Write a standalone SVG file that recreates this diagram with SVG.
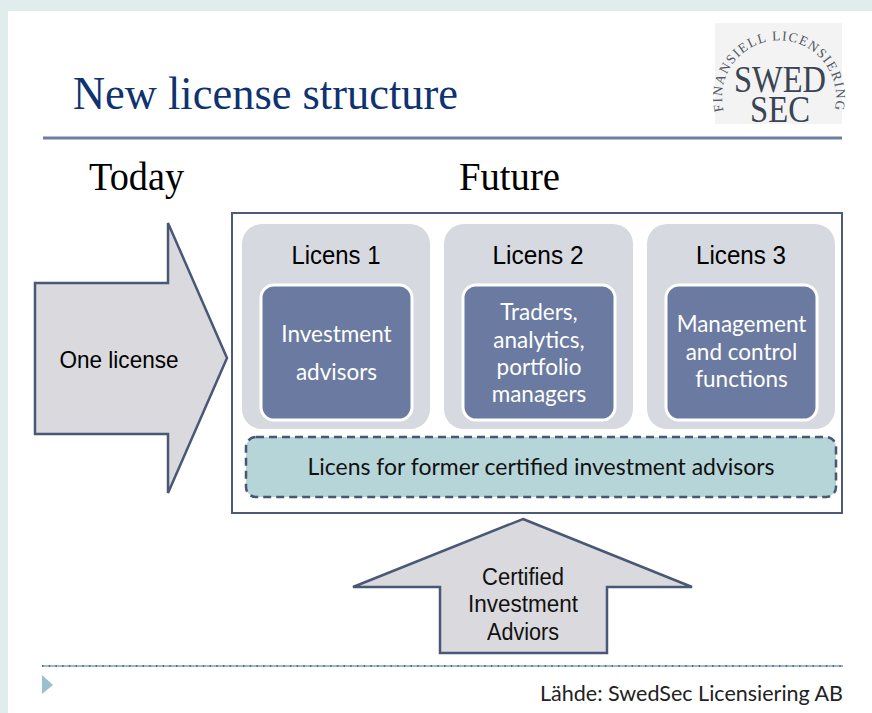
<svg xmlns="http://www.w3.org/2000/svg" width="872" height="713" viewBox="0 0 872 713">
<style>
.serif{font-family:"Liberation Serif","Times New Roman",serif}
.sans{font-family:"Liberation Sans",Arial,sans-serif}
.gill{font-family:Lato,"Open Sans",sans-serif}
.lic{fill:#d6d9df}
.inner{fill:#6b7aa0;stroke:#ffffff;stroke-width:3}
.arrow{fill:#d9d9de;stroke:#4a5877;stroke-width:2.5;stroke-linejoin:miter}
.lbl{font-size:26px;fill:#000;text-anchor:middle}
.wt{font-size:22.5px;fill:#ffffff;text-anchor:middle}
.at{font-size:23px;fill:#111;text-anchor:middle}
</style>
<defs>
<path id="arc" d="M 725.5 117 A 57 57 0 1 1 832.5 117"/>
</defs>
<rect x="0" y="0" width="872" height="713" fill="#e1eded"/>
<rect x="8" y="11" width="864" height="702" fill="#ffffff"/>

<g id="title">
<text class="serif" x="73" y="109" font-size="47" fill="#0e3370" textLength="385" lengthAdjust="spacingAndGlyphs">New license structure</text>
<rect x="43" y="136.5" width="799" height="3" fill="#6e7ea3"/>
</g>

<g id="logo">
<rect x="715" y="23" width="127" height="101" fill="#f3f3f3"/>
<text class="serif" fill="#3a4452"><textPath href="#arc" startOffset="50%" text-anchor="middle" font-size="13.5" fill="#505661" letter-spacing="1.4">FINANSIELL LICENSIERING</textPath><tspan x="780" y="92" font-size="38" text-anchor="middle" textLength="92" lengthAdjust="spacingAndGlyphs">SWED</tspan><tspan x="780" y="122" font-size="38" text-anchor="middle" textLength="60" lengthAdjust="spacingAndGlyphs">SEC</tspan></text>
</g>

<g id="headings">
<text class="serif" x="89" y="190" font-size="41" fill="#000" textLength="95" lengthAdjust="spacingAndGlyphs">Today</text>
<text class="serif" x="459" y="190" font-size="41" fill="#000" textLength="101" lengthAdjust="spacingAndGlyphs">Future</text>
</g>

<g id="today-arrow">
<polygon class="arrow" points="35,283 168,283 168,223 227,358 168,493 168,434 35,434"/>
<text class="sans" x="119" y="368" font-size="24" fill="#000" text-anchor="middle" textLength="119" lengthAdjust="spacingAndGlyphs">One license</text>
</g>

<g id="future-box">
<rect x="232" y="213" width="610" height="300" fill="#ffffff" stroke="#4d5a78" stroke-width="2"/>
</g>

<g id="licens1">
<rect class="lic" x="242" y="224" width="188" height="205" rx="20"/>
<text class="sans lbl" x="336" y="264" textLength="89" lengthAdjust="spacingAndGlyphs">Licens 1</text>
<rect class="inner" x="261" y="285" width="151" height="135" rx="13"/>
<text class="gill wt" x="336.5" y="342">Investment</text>
<text class="gill wt" x="336.5" y="380">advisors</text>
</g>

<g id="licens2">
<rect class="lic" x="444" y="224" width="189" height="205" rx="20"/>
<text class="sans lbl" x="538" y="264" textLength="91" lengthAdjust="spacingAndGlyphs">Licens 2</text>
<rect class="inner" x="463" y="285" width="152" height="135" rx="13"/>
<text class="gill wt" x="539" y="320">Traders,</text>
<text class="gill wt" x="539" y="348">analytics,</text>
<text class="gill wt" x="539" y="375">portfolio</text>
<text class="gill wt" x="539" y="402">managers</text>
</g>

<g id="licens3">
<rect class="lic" x="647" y="224" width="188" height="205" rx="20"/>
<text class="sans lbl" x="741" y="264" textLength="90" lengthAdjust="spacingAndGlyphs">Licens 3</text>
<rect class="inner" x="666" y="285" width="151" height="135" rx="13"/>
<text class="gill wt" x="741.5" y="332">Management</text>
<text class="gill wt" x="741.5" y="360">and control</text>
<text class="gill wt" x="741.5" y="387">functions</text>
</g>

<g id="former">
<rect x="246" y="437" width="590" height="60" rx="10" fill="#b6d5d9" stroke="#4a5672" stroke-width="2.5" stroke-dasharray="8 5"/>
<text class="gill" x="541" y="475" font-size="23.5" fill="#111" text-anchor="middle" textLength="467" lengthAdjust="spacingAndGlyphs">Licens for former certified investment advisors</text>
</g>

<g id="connectors">
<g id="certified-arrow">
<polygon class="arrow" points="523,519 692,587 607,587 607,653 440,653 440,587 353,587"/>
<text class="sans at" x="523" y="585" textLength="82" lengthAdjust="spacingAndGlyphs">Certified</text>
<text class="sans at" x="523" y="612" textLength="110" lengthAdjust="spacingAndGlyphs">Investment</text>
<text class="sans at" x="523" y="640" textLength="72" lengthAdjust="spacingAndGlyphs">Adviors</text>
</g>
</g>

<g id="footer">
<line x1="42" y1="666" x2="843" y2="666" stroke="#9bbccc" stroke-width="2"/>
<line x1="42" y1="666" x2="843" y2="666" stroke="#5e6d85" stroke-width="2" stroke-dasharray="1.5 5.2"/>
<polygon points="42,675 53,685 42,694" fill="#9bbfd0"/>
<text class="gill" x="843" y="701" font-size="21" fill="#222" text-anchor="end" textLength="303" lengthAdjust="spacingAndGlyphs">Lähde: SwedSec Licensiering AB</text>
</g>
</svg>
